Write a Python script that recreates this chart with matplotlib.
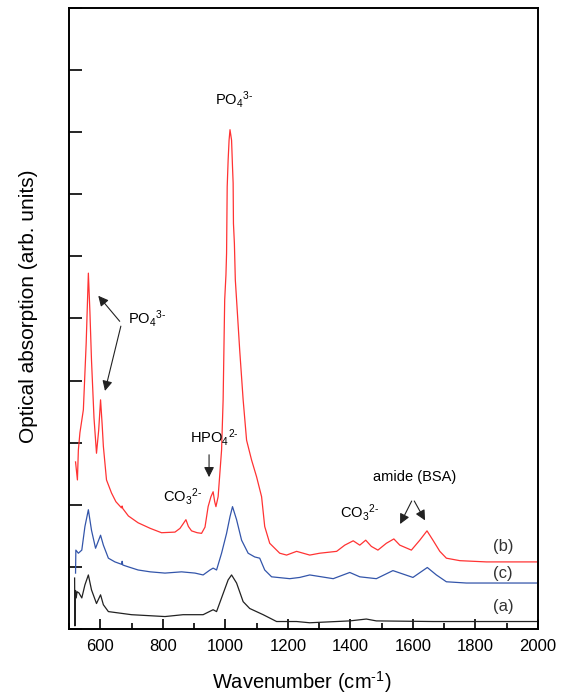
import matplotlib.pyplot as plt
from matplotlib.ticker import MultipleLocator

plt.rcParams['font.family'] = ['Liberation Sans', 'DejaVu Sans']
plt.rcParams['mathtext.fontset'] = 'custom'
plt.rcParams['mathtext.rm'] = 'Liberation Sans'
plt.rcParams['mathtext.it'] = 'Liberation Sans'

# spectrum (b) - red
wn_b = [521, 527, 530, 535, 546, 555, 562, 567, 572, 580, 588, 595, 601, 606, 610, 620,
        636, 650, 668, 670, 672, 690, 721, 760, 796, 839, 855, 866, 874, 882, 892, 910,
        924, 935, 945, 954, 961, 966, 970, 977, 988, 993, 998, 1002, 1004, 1006, 1009,
        1012, 1015, 1020, 1023, 1025, 1026, 1029, 1032, 1036, 1046, 1057, 1068, 1084,
        1100, 1116, 1126, 1142, 1174, 1196, 1228, 1270, 1302, 1356, 1382, 1409, 1430,
        1449, 1467, 1488, 1515, 1539, 1558, 1595, 1622, 1645, 1664, 1686, 1707, 1750,
        1835, 1995]
ab_b = [2.69, 2.40, 2.88, 3.16, 3.53, 4.60, 5.73, 5.10, 4.33, 3.40, 2.83, 3.20, 3.69, 3.30,
        2.94, 2.40, 2.19, 2.05, 1.95, 1.98, 1.94, 1.82, 1.71, 1.62, 1.55, 1.56, 1.62,
        1.70, 1.76, 1.65, 1.58, 1.55, 1.54, 1.64, 1.97, 2.13, 2.21, 2.05, 1.97, 2.13,
        2.88, 3.69, 5.30, 5.70, 6.05, 7.12, 7.55, 7.87, 8.04, 7.87, 7.44, 7.18, 6.53,
        6.21, 5.62, 5.30, 4.49, 3.69, 3.04, 2.72, 2.45, 2.13, 1.65, 1.38, 1.22, 1.19,
        1.25, 1.19, 1.22, 1.25, 1.35, 1.42, 1.35, 1.43, 1.33, 1.27, 1.38, 1.45, 1.35,
        1.27, 1.43, 1.58, 1.43, 1.25, 1.14, 1.10, 1.08, 1.08]

# spectrum (c) - blue
wn_c = [521, 522, 530, 541, 551, 562, 572, 585, 601, 610, 626, 647, 669, 670, 672, 690,
        721, 760, 807, 860, 903, 929, 951, 961, 972, 988, 1004, 1015, 1023, 1036, 1052,
        1073, 1094, 1110, 1126, 1148, 1206, 1238, 1270, 1345, 1398, 1430, 1483, 1536,
        1600, 1646, 1675, 1707, 1771, 1995]
ab_c = [0.90, 1.27, 1.22, 1.27, 1.65, 1.92, 1.59, 1.30, 1.51, 1.35, 1.14, 1.08, 1.04, 1.09,
        1.03, 1.00, 0.95, 0.92, 0.90, 0.92, 0.90, 0.87, 0.95, 0.98, 0.95, 1.22, 1.54,
        1.81, 1.97, 1.76, 1.43, 1.22, 1.16, 1.14, 0.95, 0.84, 0.81, 0.83, 0.87, 0.81,
        0.91, 0.84, 0.81, 0.94, 0.83, 0.99, 0.87, 0.76, 0.74, 0.74]

# spectrum (a) - black
wn_a = [518, 519, 521, 523, 526, 532, 541, 551, 562, 572, 588, 601, 610, 626, 700, 807,
        865, 903, 929, 961, 972, 993, 1009, 1020, 1036, 1057, 1078, 1121, 1164, 1228,
        1270, 1398, 1451, 1483, 1665, 1995]
ab_a = [0.82, 0.05, 0.62, 0.50, 0.60, 0.58, 0.50, 0.71, 0.87, 0.63, 0.41, 0.55, 0.39, 0.28,
        0.23, 0.20, 0.23, 0.23, 0.23, 0.31, 0.28, 0.57, 0.79, 0.87, 0.74, 0.44, 0.33,
        0.23, 0.12, 0.12, 0.10, 0.13, 0.16, 0.13, 0.12, 0.12]

fig = plt.figure(figsize=(5.64, 6.95), dpi=100)
ax = fig.add_axes([0.1223, 0.095, 0.8316, 0.8935])

ax.plot(wn_b, ab_b, color='#ff3333', lw=0.9)
ax.plot(wn_c, ab_c, color='#3355aa', lw=0.9)
ax.plot(wn_a, ab_a, color='#222222', lw=0.9)

ax.set_xlim(500, 2000)
ax.set_ylim(0, 10)
ax.xaxis.set_major_locator(MultipleLocator(200))
ax.xaxis.set_minor_locator(MultipleLocator(100))
ax.yaxis.set_major_locator(MultipleLocator(1))
ax.tick_params(axis='x', which='major', direction='in', length=7, width=1.2, labelsize=12, pad=7)
ax.tick_params(axis='x', which='minor', direction='in', length=4, width=1.2)
ax.tick_params(axis='y', which='major', direction='in', length=9, width=1.2, labelleft=False)
for s in ax.spines.values():
    s.set_linewidth(1.4)

ax.set_xlabel(r'Wavenumber (cm$^{\text{-1}}$)', fontsize=14.5)
ax.set_ylabel('Optical absorption (arb. units)', fontsize=15)
ax.xaxis.set_label_coords(0.497, -0.065)
ax.yaxis.set_label_coords(-0.066, 0.52)

fs = 10.5
ax.text(1027, 8.53, r'PO$_4$$^{\text{3-}}$', fontsize=fs, ha='center', va='center')
ax.text(690, 5.0, r'PO$_4$$^{\text{3-}}$', fontsize=fs, ha='left', va='center')
arw = dict(arrowstyle='-|>', color='#222222', lw=0.8, mutation_scale=15)
ax.annotate('', xy=(588, 5.40), xytext=(668, 4.92), arrowprops=arw)
ax.annotate('', xy=(613, 3.79), xytext=(668, 4.92), arrowprops=arw)
ax.text(887, 3.09, r'HPO$_4$$^{\text{2-}}$', fontsize=fs, ha='left', va='center')
ax.annotate('', xy=(948, 2.40), xytext=(948, 2.85), arrowprops=arw)
ax.text(800, 2.13, r'CO$_3$$^{\text{2-}}$', fontsize=fs, ha='left', va='center')
ax.text(1366, 1.87, r'CO$_3$$^{\text{2-}}$', fontsize=fs, ha='left', va='center')
ax.text(1606, 2.45, 'amide (BSA)', fontsize=fs, ha='center', va='center')
ax.annotate('', xy=(1555, 1.65), xytext=(1600, 2.10), arrowprops=arw)
ax.annotate('', xy=(1643, 1.71), xytext=(1600, 2.10), arrowprops=arw)
ax.text(1855, 1.33, '(b)', fontsize=12, ha='left', va='center', color='#333333')
ax.text(1855, 0.90, '(c)', fontsize=12, ha='left', va='center', color='#333333')
ax.text(1855, 0.36, '(a)', fontsize=12, ha='left', va='center', color='#333333')

fig.savefig('out.png', dpi=100)
